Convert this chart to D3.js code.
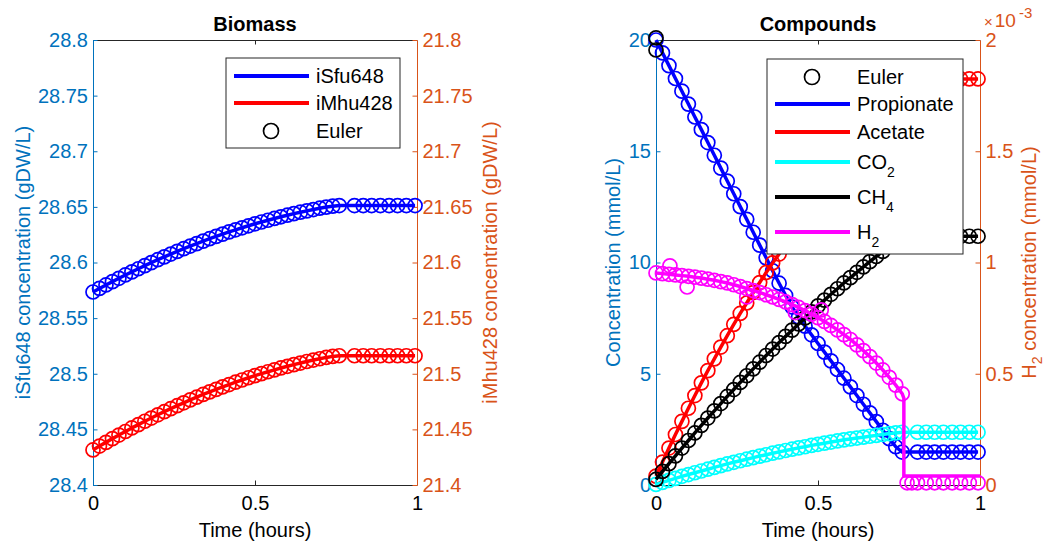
<!DOCTYPE html>
<html lang="en">
<head>
<meta charset="UTF-8" />
<title>Biomass and compounds</title>
<script src="https://cdn.jsdelivr.net/npm/d3@7/dist/d3.min.js"></script>
<style>
  body { margin: 0; background: #fff; }
  svg text { font-family: 'Liberation Sans', Arial, Helvetica, sans-serif; }
</style>
</head>
<body>
<svg width="1046" height="543"></svg>
<script>
// time points (hours): dense part of the run, then the sparse plateau steps
const timePoints = [0, 0.02, 0.04, 0.06, 0.08, 0.1, 0.12, 0.14, 0.16, 0.18, 0.2, 0.22, 0.24, 0.26, 0.28, 0.3,
  0.32, 0.34, 0.36, 0.38, 0.4, 0.42, 0.44, 0.46, 0.48, 0.5, 0.52, 0.54, 0.56, 0.58, 0.6, 0.62, 0.64, 0.66,
  0.68, 0.7, 0.72, 0.74, 0.76, 0.807, 0.834, 0.86, 0.887, 0.914, 0.94, 0.967, 0.994]

// biomass (gDW/L)
const iSfu648 = [28.5735, 28.5767, 28.5798, 28.5828, 28.5858, 28.5888, 28.5916, 28.5944, 28.5972, 28.5999,
  28.6025, 28.6051, 28.6076, 28.61, 28.6124, 28.6148, 28.617, 28.6192, 28.6214, 28.6235, 28.6255, 28.6275,
  28.6294, 28.6312, 28.633, 28.6348, 28.6364, 28.638, 28.6396, 28.6411, 28.6425, 28.6439, 28.6452, 28.6464,
  28.6476, 28.6488, 28.6498, 28.6506, 28.6512, 28.6512, 28.6512, 28.6512, 28.6512, 28.6512, 28.6512, 28.6512, 28.6512]
const iMhu428 = [21.4315, 21.435, 21.4383, 21.4417, 21.4449, 21.4481, 21.4513, 21.4543, 21.4573, 21.4602,
  21.4631, 21.4659, 21.4686, 21.4713, 21.4739, 21.4765, 21.4789, 21.4814, 21.4837, 21.486, 21.4882, 21.4903,
  21.4924, 21.4944, 21.4964, 21.4983, 21.5001, 21.5018, 21.5035, 21.5052, 21.5067, 21.5082, 21.5096, 21.511,
  21.5123, 21.5135, 21.5147, 21.5156, 21.5162, 21.5162, 21.5162, 21.5162, 21.5162, 21.5162, 21.5162, 21.5162, 21.5162]

// compounds (mmol/L)
const propionate = [20, 19.42, 18.85, 18.27, 17.7, 17.12, 16.54, 15.97, 15.39, 14.82, 14.24, 13.66, 13.09,
  12.51, 11.94, 11.36, 10.78, 10.21, 9.63, 9.07, 8.52, 8.0, 7.55, 7.14, 6.75, 6.36, 5.97, 5.58, 5.19, 4.8,
  4.41, 4.02, 3.63, 3.24, 2.85, 2.46, 2.08, 1.72, 1.48, 1.48, 1.48, 1.48, 1.48, 1.48, 1.48, 1.48, 1.48]
const acetate = [0.4, 1.03, 1.66, 2.27, 2.86, 3.45, 4.02, 4.59, 5.14, 5.67, 6.2, 6.71, 7.22, 7.71, 8.18,
  8.65, 9.1, 9.55, 9.98, 10.38, 10.79, 11.21, 11.62, 12.04, 12.45, 12.87, 13.28, 13.69, 14.11, 14.52, 14.94,
  15.35, 15.77, 16.18, 16.59, 17.01, 17.42, 17.84, 18.25, 18.25, 18.25, 18.25, 18.25, 18.25, 18.25, 18.25, 18.25]
const co2 = [0.03, 0.12, 0.21, 0.3, 0.39, 0.47, 0.55, 0.63, 0.71, 0.79, 0.87, 0.95, 1.02, 1.09, 1.16, 1.23,
  1.3, 1.36, 1.43, 1.49, 1.55, 1.61, 1.67, 1.72, 1.78, 1.83, 1.88, 1.93, 1.98, 2.03, 2.07, 2.11, 2.15, 2.19,
  2.23, 2.27, 2.31, 2.34, 2.37, 2.37, 2.37, 2.37, 2.37, 2.37, 2.37, 2.37, 2.37]
const ch4 = [0.25, 0.61, 0.96, 1.31, 1.66, 2.0, 2.34, 2.68, 3.01, 3.33, 3.66, 3.98, 4.29, 4.61, 4.91, 5.22,
  5.52, 5.82, 6.11, 6.4, 6.68, 6.96, 7.24, 7.51, 7.78, 8.05, 8.31, 8.57, 8.82, 9.08, 9.32, 9.56, 9.8, 10.04,
  10.27, 10.5, 10.72, 10.94, 11.18, 11.18, 11.18, 11.18, 11.18, 11.18, 11.18, 11.18, 11.18]
// H2 in units of 1e-3 mmol/L (right axis)
const h2 = [0.953, 0.95, 0.947, 0.944, 0.941, 0.938, 0.934, 0.93, 0.925, 0.92, 0.914, 0.908, 0.9, 0.892,
  0.883, 0.874, 0.865, 0.855, 0.845, 0.834, 0.823, 0.811, 0.798, 0.784, 0.768, 0.752, 0.735, 0.717, 0.697,
  0.676, 0.654, 0.63, 0.604, 0.577, 0.548, 0.517, 0.484, 0.449, 0.41, 0.01, 0.01, 0.01, 0.01, 0.01, 0.01, 0.01, 0.01]
// solver line after the H2 drop
const h2DropTime = [0.765, 0.765, 1]
const h2DropValue = [0.39, 0.04, 0.04]
// scattered Euler H2 points
const h2ScatterTime = [0.043, 0.096, 0.28, 0.43, 0.51, 0.775, 0.79]
const h2ScatterValue = [0.985, 0.89, 0.845, 0.775, 0.787, 0.01, 0.01]
// black Euler marks at the start of the compounds run
const eulerMarkTime = [0, 0]
const eulerMarkValue = [20.1, 19.55]

// ticks
const timeTicks = [0, 0.5, 1]
const biomassLeftTicks = [28.4, 28.45, 28.5, 28.55, 28.6, 28.65, 28.7, 28.75, 28.8]
const biomassRightTicks = [21.4, 21.45, 21.5, 21.55, 21.6, 21.65, 21.7, 21.75, 21.8]
const compoundTicks = [0, 5, 10, 15, 20]
const h2Ticks = [0, 0.5, 1, 1.5, 2]

const svg = d3.select('svg')
const plotTop = 40
const plotBottom = 485
const colorL = '#0072BD'
const colorR = '#D95319'
const boxColor = '#262626'
const fontSize = 20
const markerR = 7

function styleAxis(a, color) {
  a.attr('font-size', null).attr('font-family', null)
  a.select('.domain').attr('stroke', color).attr('stroke-width', 1)
  a.selectAll('.tick line').attr('stroke', color)
  a.selectAll('.tick text').attr('fill', color).style('font-size', fontSize + 'px')
}

function frame(x0, x1, yL, yR, ticksL, ticksR, title) {
  const x = d3.scaleLinear().domain([0, 1]).range([x0, x1])
  const g = svg.append('g')
  const fmt = d3.format('~g')
  // top box line with the mirrored tick
  g.append('g').attr('transform', `translate(0,${plotTop})`)
    .call(d3.axisTop(x).tickValues([0.5]).tickFormat('').tickSizeInner(-4.5).tickSizeOuter(0))
    .call((a) => styleAxis(a, boxColor))
  g.append('g').attr('transform', `translate(0,${plotBottom})`)
    .call(d3.axisBottom(x).tickValues(timeTicks).tickFormat(fmt).tickSizeInner(-4.5).tickSizeOuter(0).tickPadding(11))
    .call((a) => styleAxis(a, boxColor))
    .call((a) => a.selectAll('.tick text').attr('fill', '#000'))
  g.append('g').attr('transform', `translate(${x0},0)`)
    .call(d3.axisLeft(yL).tickValues(ticksL).tickFormat(fmt).tickSizeInner(-4.5).tickSizeOuter(0).tickPadding(5))
    .call((a) => styleAxis(a, colorL))
  g.append('g').attr('transform', `translate(${x1},0)`)
    .call(d3.axisRight(yR).tickValues(ticksR).tickFormat(fmt).tickSizeInner(-4.5).tickSizeOuter(0).tickPadding(5.5))
    .call((a) => styleAxis(a, colorR))
  svg.append('text').attr('x', (x0 + x1) / 2).attr('y', 30.5).attr('text-anchor', 'middle')
    .style('font-size', fontSize + 'px').style('font-weight', 'bold').attr('fill', '#000').text(title)
  svg.append('text').attr('x', (x0 + x1) / 2).attr('y', 537).attr('text-anchor', 'middle')
    .style('font-size', fontSize + 'px').attr('fill', '#000').text('Time (hours)')
  return x
}

function series(layer, x, y, times, values, color) {
  const pts = times.map((t, i) => ({ t, v: values[i] }))
  layer.append('path').datum(pts)
    .attr('fill', 'none').attr('stroke', color).attr('stroke-width', 3.5).attr('stroke-linejoin', 'round')
    .attr('d', d3.line().x((d) => x(d.t)).y((d) => y(d.v)))
  markers(layer, x, y, times, values, color)
}

function markers(layer, x, y, times, values, color) {
  layer.append('g').selectAll('circle').data(times.map((t, i) => ({ t, v: values[i] }))).enter()
    .append('circle')
    .attr('cx', (d) => x(d.t)).attr('cy', (d) => y(d.v)).attr('r', markerR)
    .attr('fill', 'none').attr('stroke', color).attr('stroke-width', 1.7)
}

function yLabel(x, text, color, sub) {
  const t = svg.append('text').attr('transform', `translate(${x},${(plotTop + plotBottom) / 2}) rotate(-90)`)
    .attr('text-anchor', 'middle').style('font-size', fontSize + 'px').attr('fill', color)
  if (sub) {
    t.append('tspan').text(sub[0])
    t.append('tspan').attr('dy', 6).style('font-size', '14px').text(sub[1])
    t.append('tspan').attr('dy', -6).text(text)
  } else {
    t.text(text)
  }
}

function legend(x, y, w, h, rows) {
  const g = svg.append('g')
  g.append('rect').attr('x', x).attr('y', y).attr('width', w).attr('height', h)
    .attr('fill', '#fff').attr('stroke', boxColor).attr('stroke-width', 1)
  rows.forEach((r) => {
    if (r.marker) {
      g.append('circle').attr('cx', x + 45).attr('cy', r.y).attr('r', 7.5)
        .attr('fill', 'none').attr('stroke', r.color).attr('stroke-width', 1.7)
    } else {
      g.append('line').attr('x1', x + 8).attr('x2', x + 83).attr('y1', r.y).attr('y2', r.y)
        .attr('stroke', r.color).attr('stroke-width', 4)
    }
    const t = g.append('text').attr('x', x + 90).attr('y', r.y).attr('dy', '0.35em')
      .style('font-size', fontSize + 'px').attr('fill', '#000')
    t.append('tspan').text(r.label)
    if (r.sub) t.append('tspan').attr('dy', 8).style('font-size', '14px').text(r.sub)
  })
}

// ---- Biomass panel
const yBioL = d3.scaleLinear().domain([28.4, 28.8]).range([plotBottom, plotTop])
const yBioR = d3.scaleLinear().domain([21.4, 21.8]).range([plotBottom, plotTop])
const xBio = frame(93, 417, yBioL, yBioR, biomassLeftTicks, biomassRightTicks, 'Biomass')
const bioLayer = svg.append('g')
series(bioLayer, xBio, yBioL, timePoints, iSfu648, '#0000FF')
series(bioLayer, xBio, yBioR, timePoints, iMhu428, '#FF0000')
yLabel(30, 'iSfu648 concentration (gDW/L)', colorL)
yLabel(497, 'iMhu428 concentration (gDW/L)', colorR)
legend(226, 58, 174, 90, [
  { label: 'iSfu648', color: '#0000FF', y: 76 },
  { label: 'iMhu428', color: '#FF0000', y: 103 },
  { label: 'Euler', color: '#000', y: 131, marker: true },
])

// ---- Compounds panel
const yCmpL = d3.scaleLinear().domain([0, 20]).range([plotBottom, plotTop])
const yCmpR = d3.scaleLinear().domain([0, 2]).range([plotBottom, plotTop])
const xCmp = frame(656, 980, yCmpL, yCmpR, compoundTicks, h2Ticks, 'Compounds')
const cmpLayer = svg.append('g')
series(cmpLayer, xCmp, yCmpL, timePoints, propionate, '#0000FF')
series(cmpLayer, xCmp, yCmpL, timePoints, acetate, '#FF0000')
series(cmpLayer, xCmp, yCmpL, timePoints, co2, '#00FFFF')
series(cmpLayer, xCmp, yCmpL, timePoints, ch4, '#000000')
markers(cmpLayer, xCmp, yCmpL, eulerMarkTime, eulerMarkValue, '#000000')
// H2 solver line runs through the dense points and then drops
const h2LineTime = timePoints.slice(0, 39).concat(h2DropTime)
const h2LineValue = h2.slice(0, 39).concat(h2DropValue)
cmpLayer.append('path').datum(h2LineTime.map((t, i) => ({ t, v: h2LineValue[i] })))
  .attr('fill', 'none').attr('stroke', '#FF00FF').attr('stroke-width', 3.5)
  .attr('d', d3.line().x((d) => xCmp(d.t)).y((d) => yCmpR(d.v)))
markers(cmpLayer, xCmp, yCmpR, timePoints, h2, '#FF00FF')
markers(cmpLayer, xCmp, yCmpR, h2ScatterTime, h2ScatterValue, '#FF00FF')

yLabel(620, 'Concentration (mmol/L)', colorL)
yLabel(1036, ' concentration (mmol/L)', colorR, ['H', '2'])
// exponent of the right axis
const expo = svg.append('text').attr('x', 984).attr('y', 27).attr('fill', colorR).style('font-size', '19px')
expo.append('tspan').style('font-size', '15px').text('\u00d7')
expo.append('tspan').attr('dx', 2).text('10')
svg.append('text').attr('x', 1019).attr('y', 18).attr('fill', colorR).style('font-size', '15px').text('-3')

legend(767, 59, 196, 195, [
  { label: 'Euler', color: '#000', y: 77, marker: true },
  { label: 'Propionate', color: '#0000FF', y: 104 },
  { label: 'Acetate', color: '#FF0000', y: 132 },
  { label: 'CO', sub: '2', color: '#00FFFF', y: 162 },
  { label: 'CH', sub: '4', color: '#000000', y: 197 },
  { label: 'H', sub: '2', color: '#FF00FF', y: 232 },
])
</script>
</body>
</html>
